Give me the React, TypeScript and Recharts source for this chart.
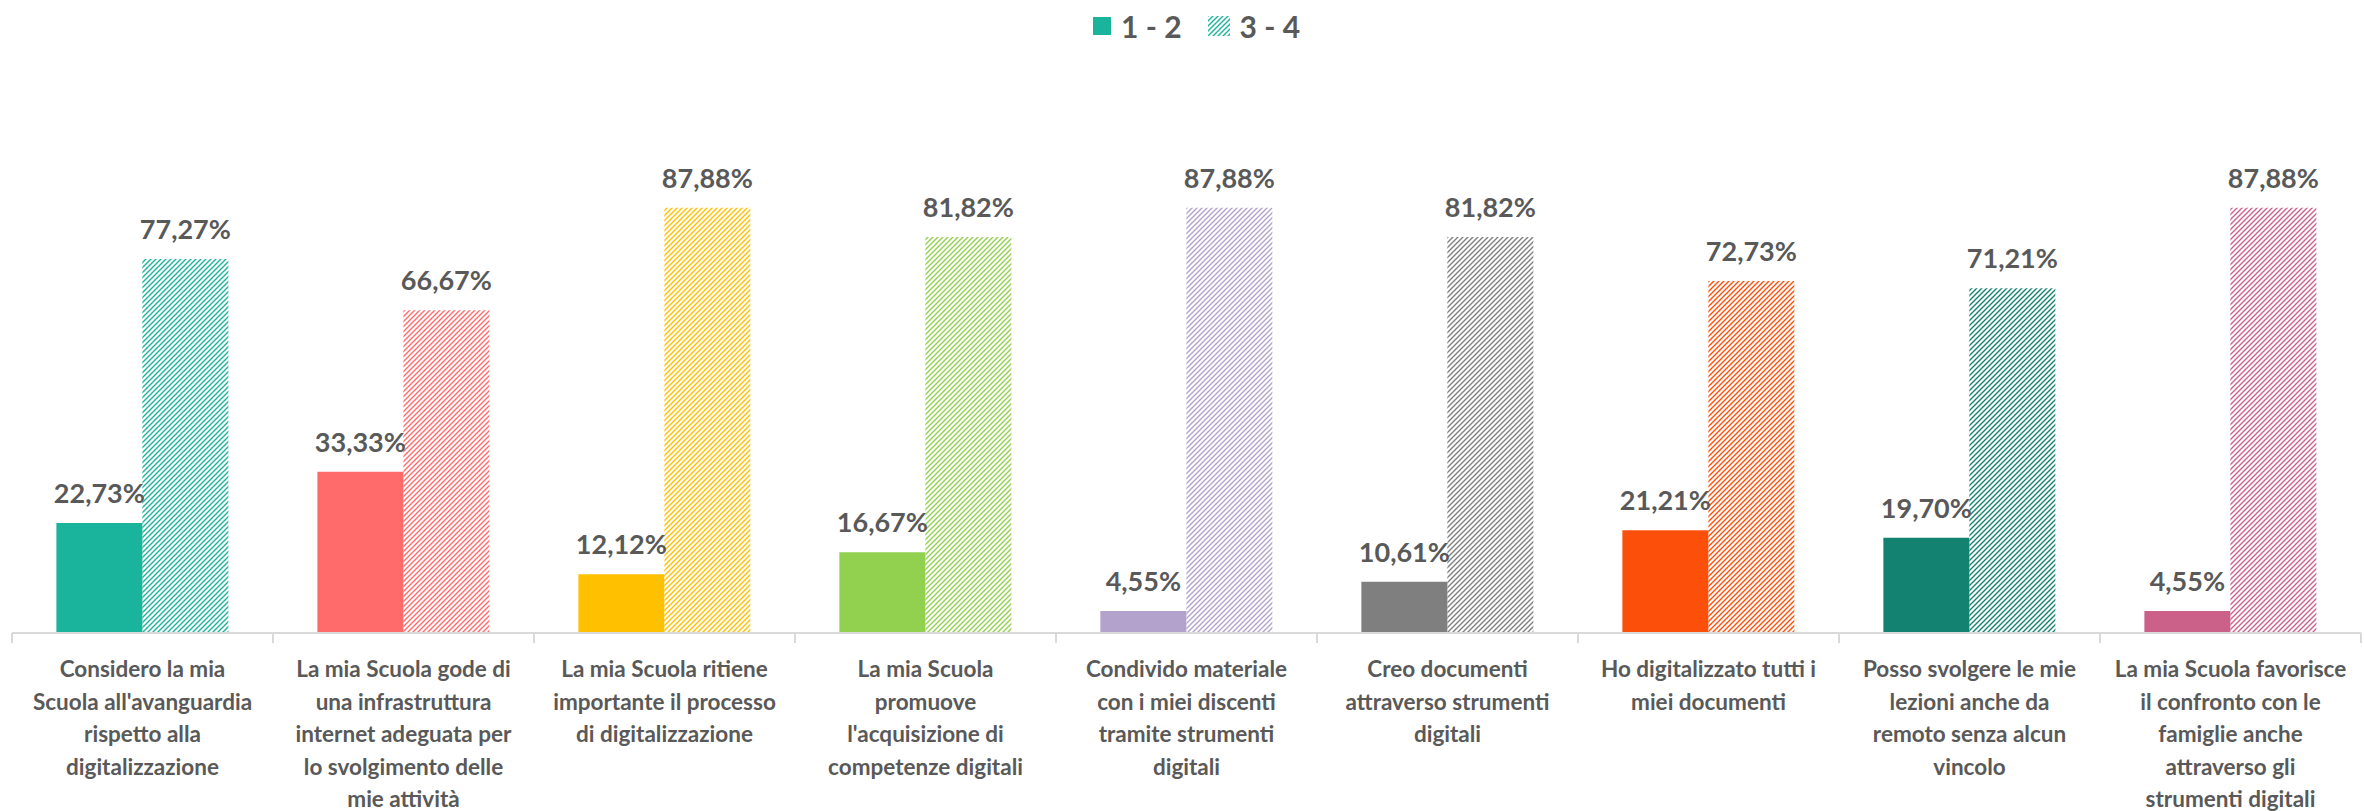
import React from 'react';
import { BarChart, Bar, XAxis, YAxis, Cell, LabelList, Legend } from 'recharts';

const CATEGORY_LINES: string[][] = [
  ['Considero la mia', "Scuola all'avanguardia", 'rispetto alla', 'digitalizzazione'],
  ['La mia Scuola gode di', 'una infrastruttura', 'internet adeguata per', 'lo svolgimento delle', 'mie attività'],
  ['La mia Scuola ritiene', 'importante il processo', 'di digitalizzazione'],
  ['La mia Scuola', 'promuove', "l'acquisizione di", 'competenze digitali'],
  ['Condivido materiale', 'con i miei discenti', 'tramite strumenti', 'digitali'],
  ['Creo documenti', 'attraverso strumenti', 'digitali'],
  ['Ho digitalizzato tutti i', 'miei documenti'],
  ['Posso svolgere le mie', 'lezioni anche da', 'remoto senza alcun', 'vincolo'],
  ['La mia Scuola favorisce', 'il confronto con le', 'famiglie anche', 'attraverso gli', 'strumenti digitali'],
];

const SERIES_NAMES = ['1 - 2', '3 - 4'];
const LOW_VALUES = [22.73, 33.33, 12.12, 16.67, 4.55, 10.61, 21.21, 19.7, 4.55];
const HIGH_VALUES = [77.27, 66.67, 87.88, 81.82, 87.88, 81.82, 72.73, 71.21, 87.88];

const COLORS = ['#1ab39b', '#ff6b6b', '#ffc000', '#92d050', '#b3a2cc', '#7f7f7f', '#fc500a', '#148271', '#cb6189'];

const WIDTH = 2364;
const HEIGHT = 811;
const MARGIN = { top: 149, right: 3, bottom: 8, left: 12 };
const BAND = (WIDTH - MARGIN.left - MARGIN.right) / CATEGORY_LINES.length;
const TEXT = '#595959';
const FONT = 'Lato, "Open Sans", sans-serif';

const data = CATEGORY_LINES.map((lines, i) => ({
  name: lines.join(' '),
  low: LOW_VALUES[i],
  high: HIGH_VALUES[i],
}));

const fmt = (v: any) => `${Number(v).toFixed(2).replace('.', ',')}%`;

const CategoryTick = ({ x, y, index }: any) => {
  const lines = CATEGORY_LINES[index] || [];
  const last = index === CATEGORY_LINES.length - 1;
  return (
    <g>
      <line x1={x - BAND / 2} x2={x - BAND / 2} y1={y} y2={y + 10} stroke="#d9d9d9" strokeWidth={2} />
      {last && <line x1={x + BAND / 2} x2={x + BAND / 2} y1={y} y2={y + 10} stroke="#d9d9d9" strokeWidth={2} />}
      <text x={x} y={y + 44} textAnchor="middle" fill={TEXT} fontSize={22.5} fontWeight={700} fontFamily={FONT}>
        {lines.map((l, j) => (
          <tspan key={j} x={x} dy={j === 0 ? 0 : 32.5}>{l}</tspan>
        ))}
      </text>
    </g>
  );
};

const LegendContent = () => (
  <div style={{ display: 'flex', alignItems: 'center', fontFamily: FONT, fontWeight: 700, fontSize: 30, color: TEXT }}>
    <span style={{ width: 18, height: 18, background: COLORS[0], display: 'inline-block', marginRight: 10 }} />
    <span style={{ marginRight: 26 }}>{SERIES_NAMES[0]}</span>
    <svg width={22} height={20} style={{ marginRight: 10 }}>
      <rect width={22} height={20} fill="url(#hatch-0)" />
    </svg>
    <span>{SERIES_NAMES[1]}</span>
  </div>
);

const App: React.FC = () => {
  return (
    <div style={{ position: 'absolute', top: 0, left: 0, width: WIDTH, height: HEIGHT, background: '#fff' }}>
      <BarChart
        width={WIDTH}
        height={HEIGHT}
        data={data}
        margin={MARGIN}
        barCategoryGap="17%"
        barGap={0}
      >
        <defs>
          {COLORS.map((c, i) => (
            <pattern key={i} id={`hatch-${i}`} width={5} height={5} patternUnits="userSpaceOnUse">
              <path d="M0,5 L5,0 M-1,1 L1,-1 M4,6 L6,4" stroke={c} strokeWidth={1.4} />
            </pattern>
          ))}
        </defs>
        <XAxis
          dataKey="name"
          height={170}
          interval={0}
          tickLine={false}
          tickSize={0}
          tickMargin={0}
          axisLine={{ stroke: '#d9d9d9', strokeWidth: 2 }}
          tick={<CategoryTick />}
        />
        <YAxis hide domain={[0, 100]} />
        <Legend
          verticalAlign="middle"
          align="center"
          content={<LegendContent />}
          wrapperStyle={{ top: 8, left: 1093, width: 'auto' }}
        />
        <Bar dataKey="low" name={SERIES_NAMES[0]} isAnimationActive={false}>
          {data.map((_, i) => (
            <Cell key={i} fill={COLORS[i]} />
          ))}
          <LabelList dataKey="low" position="top" offset={20} formatter={fmt} fill={TEXT} fontSize={27} fontWeight={700} fontFamily={FONT} />
        </Bar>
        <Bar dataKey="high" name={SERIES_NAMES[1]} isAnimationActive={false}>
          {data.map((_, i) => (
            <Cell key={i} fill={`url(#hatch-${i})`} />
          ))}
          <LabelList dataKey="high" position="top" offset={20} formatter={fmt} fill={TEXT} fontSize={27} fontWeight={700} fontFamily={FONT} />
        </Bar>
      </BarChart>
    </div>
  );
};

export default App;
